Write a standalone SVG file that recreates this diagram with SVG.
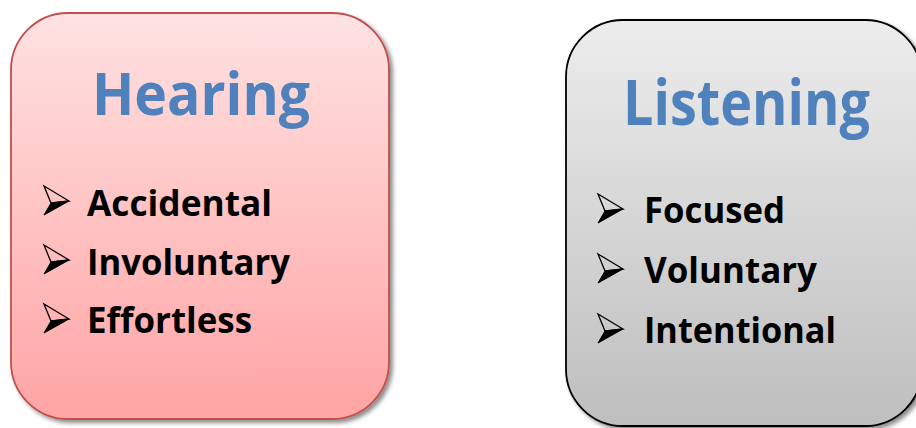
<svg xmlns="http://www.w3.org/2000/svg" width="916" height="428" viewBox="0 0 916 428">
  <style>
    .title { font-family: "Open Sans", "Liberation Sans", sans-serif; font-weight: 700; fill: #4F81BD; }
    .item { font-family: "Open Sans", "Liberation Sans", sans-serif; font-weight: 700; font-size: 36px; fill: #000000; }
    .wing-top { fill: none; stroke: #000000; stroke-width: 1.3; stroke-linejoin: miter; }
    .wing-bot { fill: #000000; stroke: #000000; stroke-width: 1; stroke-linejoin: miter; }
  </style>
  <defs>
    <linearGradient id="gradRed" x1="0" y1="0" x2="0" y2="1">
      <stop offset="0" stop-color="#FFE2E2"/>
      <stop offset="1" stop-color="#FFA4A4"/>
    </linearGradient>
    <linearGradient id="gradGray" x1="0" y1="0" x2="0" y2="1">
      <stop offset="0" stop-color="#EDEDED"/>
      <stop offset="1" stop-color="#BEBEBE"/>
    </linearGradient>
    <filter id="shadow" x="-10%" y="-10%" width="120%" height="120%">
      <feDropShadow dx="3" dy="3" stdDeviation="2" flood-color="#000000" flood-opacity="0.45"/>
    </filter>
    <g id="bullet">
      <polygon class="wing-top" points="0,0 25,15 7,17"/>
      <polygon class="wing-bot" points="7,17 25,15 0,29"/>
    </g>
  </defs>

  <g id="node-hearing">
    <rect x="11" y="13" width="378" height="406" rx="57" ry="57" fill="url(#gradRed)" stroke="#C0504D" stroke-width="1.8" filter="url(#shadow)"/>
    <text class="title" x="92" y="115" font-size="59" textLength="218" lengthAdjust="spacingAndGlyphs">Hearing</text>
    <use href="#bullet" x="44" y="186"/>
    <text class="item" x="87" y="216" textLength="185" lengthAdjust="spacingAndGlyphs">Accidental</text>
    <use href="#bullet" x="44" y="245"/>
    <text class="item" x="87" y="275" textLength="203" lengthAdjust="spacingAndGlyphs">Involuntary</text>
    <use href="#bullet" x="44" y="304"/>
    <text class="item" x="87" y="333" textLength="165" lengthAdjust="spacingAndGlyphs">Effortless</text>
  </g>

  <g id="node-listening">
    <rect x="566" y="20" width="356" height="406" rx="57" ry="57" fill="url(#gradGray)" stroke="#000000" stroke-width="1.8" filter="url(#shadow)"/>
    <text class="title" x="623" y="125" font-size="62" textLength="247" lengthAdjust="spacingAndGlyphs">Listening</text>
    <use href="#bullet" x="598" y="194"/>
    <text class="item" x="644" y="223" textLength="141" lengthAdjust="spacingAndGlyphs">Focused</text>
    <use href="#bullet" x="598" y="254"/>
    <text class="item" x="644" y="283" textLength="173" lengthAdjust="spacingAndGlyphs">Voluntary</text>
    <use href="#bullet" x="598" y="314"/>
    <text class="item" x="644" y="343" textLength="192" lengthAdjust="spacingAndGlyphs">Intentional</text>
  </g>

  <g id="connectors"></g>
</svg>
